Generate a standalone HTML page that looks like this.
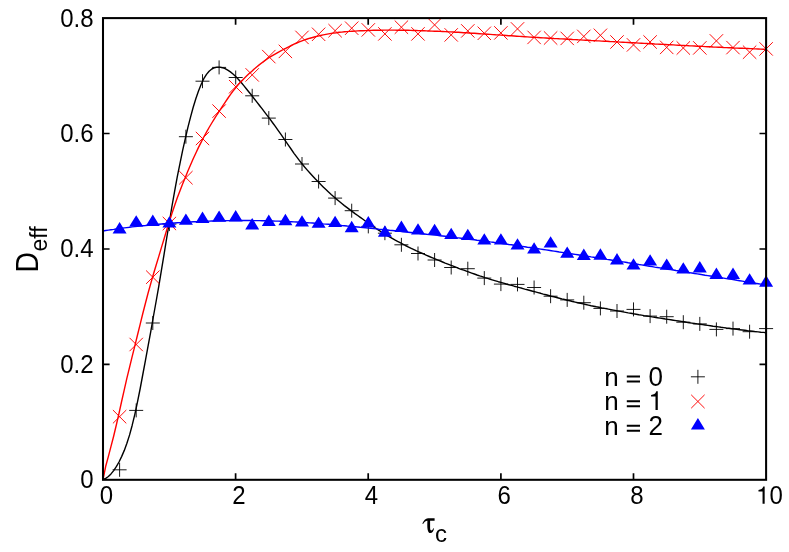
<!DOCTYPE html>
<html lang="en"><head><meta charset="utf-8"><title>D_eff versus tau_c</title>
<style>
html,body{margin:0;padding:0;background:#fff}
svg{display:block}
text{font-family:"Liberation Sans",sans-serif;fill:#000}
.g{will-change:opacity}
</style></head>
<body>
<svg width="789" height="552" viewBox="0 0 789 552">
<defs>
<path id="one" d="M359 0H271V-505H101V-568C209 -575 268 -605 302 -703H359Z"/>
</defs>
<!-- n = 0 : curve + points -->
<path d="M103.0 479.6L105.7 478.4L108.4 476.5L111.0 473.9L113.7 470.6L116.3 466.7L119.0 462.0L121.6 456.6L124.3 450.4L126.9 443.3L129.6 434.9L132.2 425.2L134.9 414.1L137.5 401.8L140.2 388.5L142.8 374.5L145.5 360.2L148.1 345.8L150.8 331.3L153.4 316.5L156.1 301.5L158.8 286.1L161.4 270.3L164.1 254.2L166.7 238.0L169.4 221.8L172.0 206.0L174.7 190.9L177.3 176.7L180.0 163.3L182.6 150.7L185.3 138.7L187.9 127.4L190.6 116.8L193.2 107.2L195.9 98.5L198.5 90.9L201.2 84.3L203.8 78.7L206.5 74.4L209.1 71.2L211.8 69.0L214.5 67.7L217.1 67.1L219.8 67.1L222.4 67.7L225.1 68.6L227.7 70.1L230.4 71.9L233.0 74.0L235.7 76.5L238.3 79.3L241.0 82.3L243.6 85.4L246.3 88.7L248.9 92.0L251.6 95.3L254.2 98.7L256.9 102.1L259.5 105.5L262.2 108.9L264.8 112.4L267.5 115.9L270.2 119.4L272.8 123.0L275.5 126.7L278.1 130.4L280.8 134.1L283.4 137.9L286.1 141.8L288.7 145.6L291.4 149.5L294.0 153.3L296.7 156.9L299.3 160.4L302.0 163.8L304.6 167.0L307.3 170.1L309.9 173.0L312.6 175.9L315.2 178.8L317.9 181.5L320.5 184.3L323.2 186.9L325.9 189.5L328.5 192.0L331.2 194.5L333.8 196.8L336.5 199.1L339.1 201.3L341.8 203.5L344.4 205.6L347.1 207.6L349.7 209.6L352.4 211.6L355.0 213.6L357.7 215.5L360.3 217.4L363.0 219.3L365.6 221.2L368.3 223.1L370.9 224.9L373.6 226.8L376.2 228.5L378.9 230.3L381.6 232.0L384.2 233.6L386.9 235.3L389.5 236.8L392.2 238.4L394.8 239.9L397.5 241.3L400.1 242.7L402.8 244.1L405.4 245.5L408.1 246.8L410.7 248.1L413.4 249.3L416.0 250.6L418.7 251.8L421.3 253.0L424.0 254.2L426.6 255.3L429.3 256.5L431.9 257.6L434.6 258.7L437.3 259.8L439.9 260.9L442.6 262.0L445.2 263.1L447.9 264.1L450.5 265.2L453.2 266.2L455.8 267.2L458.5 268.3L461.1 269.3L463.8 270.2L466.4 271.2L469.1 272.2L471.7 273.1L474.4 274.0L477.0 275.0L479.7 275.9L482.3 276.7L485.0 277.6L487.6 278.4L490.3 279.3L493.0 280.1L495.6 280.9L498.3 281.7L500.9 282.4L503.6 283.2L506.2 284.0L508.9 284.7L511.5 285.4L514.2 286.2L516.8 286.9L519.5 287.6L522.1 288.3L524.8 289.1L527.4 289.8L530.1 290.5L532.7 291.2L535.4 291.9L538.0 292.6L540.7 293.3L543.3 294.1L546.0 294.8L548.7 295.5L551.3 296.2L554.0 296.8L556.6 297.5L559.3 298.2L561.9 298.9L564.6 299.5L567.2 300.2L569.9 300.8L572.5 301.5L575.2 302.1L577.8 302.7L580.5 303.3L583.1 303.9L585.8 304.5L588.4 305.1L591.1 305.7L593.7 306.2L596.4 306.8L599.0 307.3L601.7 307.9L604.4 308.4L607.0 308.9L609.7 309.4L612.3 309.9L615.0 310.4L617.6 310.9L620.3 311.4L622.9 311.9L625.6 312.4L628.2 312.9L630.9 313.3L633.5 313.8L636.2 314.2L638.8 314.7L641.5 315.1L644.1 315.6L646.8 316.0L649.4 316.4L652.1 316.9L654.7 317.3L657.4 317.7L660.1 318.1L662.7 318.5L665.4 319.0L668.0 319.4L670.7 319.8L673.3 320.2L676.0 320.6L678.6 321.0L681.3 321.4L683.9 321.8L686.6 322.3L689.2 322.7L691.9 323.1L694.5 323.5L697.2 323.9L699.8 324.2L702.5 324.6L705.1 325.0L707.8 325.4L710.4 325.8L713.1 326.2L715.8 326.5L718.4 326.9L721.1 327.3L723.7 327.6L726.4 328.0L729.0 328.3L731.7 328.7L734.3 329.0L737.0 329.4L739.6 329.7L742.3 330.0L744.9 330.3L747.6 330.7L750.2 331.0L752.9 331.3L755.5 331.6L758.2 331.9L760.8 332.2L763.5 332.4L766.1 332.7" fill="none" stroke="#000" stroke-width="1.4" stroke-linejoin="round"/>
<path d="M112.6 469.8h14.0M119.6 462.8v14.0M129.2 410.4h14.0M136.2 403.4v14.0M145.8 323.0h14.0M152.8 316.0v14.0M162.4 224.1h14.0M169.4 217.1v14.0M178.9 136.7h14.0M185.9 129.7v14.0M195.5 81.2h14.0M202.5 74.2v14.0M212.1 67.4h14.0M219.1 60.4v14.0M228.7 77.5h14.0M235.7 70.5v14.0M245.2 95.8h14.0M252.2 88.8v14.0M261.8 118.1h14.0M268.8 111.1v14.0M278.4 139.5h14.0M285.4 132.5v14.0M295.0 164.0h14.0M302.0 157.0v14.0M311.6 181.5h14.0M318.6 174.5v14.0M328.1 198.1h14.0M335.1 191.1v14.0M344.7 210.7h14.0M351.7 203.7v14.0M361.3 226.4h14.0M368.3 219.4v14.0M377.9 233.2h14.0M384.9 226.2v14.0M394.4 244.8h14.0M401.4 237.8v14.0M411.0 253.5h14.0M418.0 246.5v14.0M427.6 260.0h14.0M434.6 253.0v14.0M444.2 267.5h14.0M451.2 260.5v14.0M460.8 268.7h14.0M467.8 261.7v14.0M477.3 278.1h14.0M484.3 271.1v14.0M493.9 284.1h14.0M500.9 277.1v14.0M510.5 284.4h14.0M517.5 277.4v14.0M527.1 287.5h14.0M534.1 280.5v14.0M543.6 296.2h14.0M550.6 289.2v14.0M560.2 299.9h14.0M567.2 292.9v14.0M576.8 302.7h14.0M583.8 295.7v14.0M593.4 308.4h14.0M600.4 301.4v14.0M610.0 311.0h14.0M617.0 304.0v14.0M626.5 309.4h14.0M633.5 302.4v14.0M643.1 316.1h14.0M650.1 309.1v14.0M659.7 316.7h14.0M666.7 309.7v14.0M676.3 322.2h14.0M683.3 315.2v14.0M692.8 323.9h14.0M699.8 316.9v14.0M709.4 329.4h14.0M716.4 322.4v14.0M726.0 328.6h14.0M733.0 321.6v14.0M742.6 331.7h14.0M749.6 324.7v14.0M759.1 328.6h14.0M766.1 321.6v14.0M690.9 376.8h14.0M697.9 369.8v14.0" stroke="#000" stroke-width="1" fill="none" stroke-opacity="0.9"/>
<!-- n = 1 : curve + points -->
<path d="M103.0 479.6L105.7 466.3L108.4 456.4L111.0 446.4L113.7 436.0L116.3 425.0L119.0 413.4L121.6 401.5L124.3 389.7L126.9 378.2L129.6 367.2L132.2 356.4L134.9 345.7L137.5 335.0L140.2 324.2L142.8 313.5L145.5 303.0L148.1 293.0L150.8 283.4L153.4 274.2L156.1 265.2L158.8 256.4L161.4 247.6L164.1 238.8L166.7 230.0L169.4 221.5L172.0 213.2L174.7 205.3L177.3 197.8L180.0 190.7L182.6 183.9L185.3 177.4L187.9 171.0L190.6 164.8L193.2 158.8L195.9 153.0L198.5 147.4L201.2 142.1L203.8 137.0L206.5 132.1L209.1 127.5L211.8 123.0L214.5 118.7L217.1 114.5L219.8 110.4L222.4 106.3L225.1 102.3L227.7 98.5L230.4 94.7L233.0 91.1L235.7 87.8L238.3 84.6L241.0 81.7L243.6 78.9L246.3 76.3L248.9 73.8L251.6 71.4L254.2 69.0L256.9 66.8L259.5 64.6L262.2 62.5L264.8 60.6L267.5 58.7L270.2 56.9L272.8 55.3L275.5 53.8L278.1 52.3L280.8 50.9L283.4 49.5L286.1 48.2L288.7 46.8L291.4 45.5L294.0 44.2L296.7 43.0L299.3 41.9L302.0 40.8L304.6 39.9L307.3 39.0L309.9 38.2L312.6 37.5L315.2 36.8L317.9 36.1L320.5 35.5L323.2 34.9L325.9 34.4L328.5 33.9L331.2 33.4L333.8 33.0L336.5 32.7L339.1 32.3L341.8 32.1L344.4 31.8L347.1 31.6L349.7 31.4L352.4 31.2L355.0 31.1L357.7 30.9L360.3 30.8L363.0 30.7L365.6 30.6L368.3 30.5L370.9 30.4L373.6 30.3L376.2 30.2L378.9 30.2L381.6 30.2L384.2 30.1L386.9 30.1L389.5 30.1L392.2 30.1L394.8 30.1L397.5 30.2L400.1 30.2L402.8 30.2L405.4 30.3L408.1 30.3L410.7 30.4L413.4 30.5L416.0 30.5L418.7 30.6L421.3 30.7L424.0 30.8L426.6 30.9L429.3 31.0L431.9 31.1L434.6 31.2L437.3 31.3L439.9 31.4L442.6 31.5L445.2 31.6L447.9 31.8L450.5 31.9L453.2 32.0L455.8 32.2L458.5 32.3L461.1 32.5L463.8 32.7L466.4 32.8L469.1 33.0L471.7 33.2L474.4 33.3L477.0 33.5L479.7 33.7L482.3 33.9L485.0 34.0L487.6 34.2L490.3 34.4L493.0 34.6L495.6 34.8L498.3 34.9L500.9 35.1L503.6 35.3L506.2 35.5L508.9 35.7L511.5 35.8L514.2 36.0L516.8 36.2L519.5 36.4L522.1 36.5L524.8 36.7L527.4 36.9L530.1 37.1L532.7 37.2L535.4 37.4L538.0 37.5L540.7 37.7L543.3 37.9L546.0 38.0L548.7 38.2L551.3 38.3L554.0 38.5L556.6 38.6L559.3 38.8L561.9 38.9L564.6 39.0L567.2 39.2L569.9 39.3L572.5 39.5L575.2 39.6L577.8 39.8L580.5 39.9L583.1 40.1L585.8 40.2L588.4 40.3L591.1 40.5L593.7 40.6L596.4 40.8L599.0 40.9L601.7 41.1L604.4 41.2L607.0 41.3L609.7 41.5L612.3 41.6L615.0 41.8L617.6 41.9L620.3 42.1L622.9 42.2L625.6 42.4L628.2 42.5L630.9 42.7L633.5 42.8L636.2 42.9L638.8 43.1L641.5 43.2L644.1 43.4L646.8 43.5L649.4 43.7L652.1 43.8L654.7 44.0L657.4 44.1L660.1 44.2L662.7 44.4L665.4 44.5L668.0 44.7L670.7 44.8L673.3 44.9L676.0 45.1L678.6 45.2L681.3 45.4L683.9 45.5L686.6 45.6L689.2 45.8L691.9 45.9L694.5 46.0L697.2 46.2L699.8 46.3L702.5 46.4L705.1 46.6L707.8 46.7L710.4 46.8L713.1 47.0L715.8 47.1L718.4 47.2L721.1 47.3L723.7 47.5L726.4 47.6L729.0 47.7L731.7 47.8L734.3 48.0L737.0 48.1L739.6 48.2L742.3 48.3L744.9 48.4L747.6 48.5L750.2 48.6L752.9 48.8L755.5 48.9L758.2 49.0L760.8 49.1L763.5 49.2L766.1 49.3" fill="none" stroke="#f00" stroke-width="1.4" stroke-linejoin="round"/>
<path d="M112.9 410.0l13.4 13.4M112.9 423.4l13.4 -13.4M129.5 337.8l13.4 13.4M129.5 351.2l13.4 -13.4M146.1 270.5l13.4 13.4M146.1 283.9l13.4 -13.4M162.7 216.8l13.4 13.4M162.7 230.2l13.4 -13.4M179.2 171.0l13.4 13.4M179.2 184.4l13.4 -13.4M195.8 131.8l13.4 13.4M195.8 145.2l13.4 -13.4M212.4 104.4l13.4 13.4M212.4 117.8l13.4 -13.4M229.0 80.0l13.4 13.4M229.0 93.4l13.4 -13.4M245.5 68.2l13.4 13.4M245.5 81.6l13.4 -13.4M262.1 49.9l13.4 13.4M262.1 63.3l13.4 -13.4M278.7 44.7l13.4 13.4M278.7 58.1l13.4 -13.4M295.3 30.7l13.4 13.4M295.3 44.1l13.4 -13.4M311.9 27.6l13.4 13.4M311.9 41.0l13.4 -13.4M328.4 24.0l13.4 13.4M328.4 37.4l13.4 -13.4M345.0 21.5l13.4 13.4M345.0 34.9l13.4 -13.4M361.6 23.2l13.4 13.4M361.6 36.6l13.4 -13.4M378.2 27.2l13.4 13.4M378.2 40.6l13.4 -13.4M394.7 20.5l13.4 13.4M394.7 33.9l13.4 -13.4M411.3 27.2l13.4 13.4M411.3 40.6l13.4 -13.4M427.9 18.2l13.4 13.4M427.9 31.6l13.4 -13.4M444.5 28.2l13.4 13.4M444.5 41.6l13.4 -13.4M461.1 24.2l13.4 13.4M461.1 37.6l13.4 -13.4M477.6 26.6l13.4 13.4M477.6 40.0l13.4 -13.4M494.2 26.2l13.4 13.4M494.2 39.6l13.4 -13.4M510.8 22.2l13.4 13.4M510.8 35.6l13.4 -13.4M527.4 30.7l13.4 13.4M527.4 44.1l13.4 -13.4M543.9 31.3l13.4 13.4M543.9 44.7l13.4 -13.4M560.5 31.7l13.4 13.4M560.5 45.1l13.4 -13.4M577.1 29.7l13.4 13.4M577.1 43.1l13.4 -13.4M593.7 28.6l13.4 13.4M593.7 42.0l13.4 -13.4M610.3 35.3l13.4 13.4M610.3 48.7l13.4 -13.4M626.8 38.2l13.4 13.4M626.8 51.6l13.4 -13.4M643.4 35.3l13.4 13.4M643.4 48.7l13.4 -13.4M660.0 40.7l13.4 13.4M660.0 54.1l13.4 -13.4M676.6 41.3l13.4 13.4M676.6 54.7l13.4 -13.4M693.1 41.2l13.4 13.4M693.1 54.6l13.4 -13.4M709.7 34.2l13.4 13.4M709.7 47.6l13.4 -13.4M726.3 40.9l13.4 13.4M726.3 54.3l13.4 -13.4M742.9 45.5l13.4 13.4M742.9 58.9l13.4 -13.4M759.4 42.2l13.4 13.4M759.4 55.6l13.4 -13.4M691.2 394.8l13.4 13.4M691.2 408.2l13.4 -13.4" stroke="#f00" stroke-width="1" fill="none" stroke-opacity="0.95"/>
<!-- n = 2 : curve + points -->
<path d="M103.0 231.0L105.7 230.5L108.4 230.1L111.0 229.7L113.7 229.4L116.3 229.0L119.0 228.6L121.6 228.3L124.3 227.9L126.9 227.6L129.6 227.3L132.2 226.9L134.9 226.6L137.5 226.3L140.2 226.0L142.8 225.7L145.5 225.5L148.1 225.2L150.8 224.9L153.4 224.7L156.1 224.5L158.8 224.2L161.4 224.0L164.1 223.8L166.7 223.6L169.4 223.3L172.0 223.2L174.7 223.0L177.3 222.8L180.0 222.6L182.6 222.4L185.3 222.3L187.9 222.1L190.6 222.0L193.2 221.8L195.9 221.7L198.5 221.6L201.2 221.4L203.8 221.3L206.5 221.2L209.1 221.1L211.8 221.0L214.5 221.0L217.1 220.9L219.8 220.8L222.4 220.7L225.1 220.7L227.7 220.6L230.4 220.6L233.0 220.6L235.7 220.5L238.3 220.5L241.0 220.5L243.6 220.5L246.3 220.5L248.9 220.5L251.6 220.5L254.2 220.6L256.9 220.6L259.5 220.6L262.2 220.7L264.8 220.8L267.5 220.8L270.2 220.9L272.8 221.0L275.5 221.1L278.1 221.1L280.8 221.2L283.4 221.4L286.1 221.5L288.7 221.6L291.4 221.7L294.0 221.9L296.7 222.0L299.3 222.2L302.0 222.3L304.6 222.5L307.3 222.7L309.9 222.9L312.6 223.0L315.2 223.2L317.9 223.4L320.5 223.6L323.2 223.9L325.9 224.1L328.5 224.3L331.2 224.5L333.8 224.8L336.5 225.0L339.1 225.2L341.8 225.5L344.4 225.7L347.1 226.0L349.7 226.2L352.4 226.5L355.0 226.7L357.7 227.0L360.3 227.3L363.0 227.5L365.6 227.8L368.3 228.1L370.9 228.3L373.6 228.6L376.2 228.9L378.9 229.2L381.6 229.4L384.2 229.7L386.9 230.0L389.5 230.3L392.2 230.5L394.8 230.8L397.5 231.1L400.1 231.4L402.8 231.7L405.4 232.0L408.1 232.2L410.7 232.5L413.4 232.8L416.0 233.1L418.7 233.4L421.3 233.7L424.0 234.0L426.6 234.3L429.3 234.5L431.9 234.8L434.6 235.1L437.3 235.4L439.9 235.7L442.6 236.0L445.2 236.3L447.9 236.6L450.5 236.9L453.2 237.2L455.8 237.6L458.5 237.9L461.1 238.2L463.8 238.5L466.4 238.8L469.1 239.2L471.7 239.5L474.4 239.8L477.0 240.2L479.7 240.5L482.3 240.8L485.0 241.2L487.6 241.5L490.3 241.9L493.0 242.2L495.6 242.6L498.3 243.0L500.9 243.3L503.6 243.7L506.2 244.1L508.9 244.5L511.5 244.8L514.2 245.2L516.8 245.6L519.5 246.0L522.1 246.4L524.8 246.8L527.4 247.2L530.1 247.5L532.7 247.9L535.4 248.3L538.0 248.7L540.7 249.1L543.3 249.5L546.0 249.9L548.7 250.3L551.3 250.7L554.0 251.1L556.6 251.5L559.3 252.0L561.9 252.4L564.6 252.8L567.2 253.2L569.9 253.6L572.5 254.0L575.2 254.4L577.8 254.8L580.5 255.2L583.1 255.6L585.8 256.0L588.4 256.4L591.1 256.9L593.7 257.3L596.4 257.7L599.0 258.1L601.7 258.5L604.4 258.9L607.0 259.4L609.7 259.8L612.3 260.2L615.0 260.6L617.6 261.1L620.3 261.5L622.9 261.9L625.6 262.3L628.2 262.8L630.9 263.2L633.5 263.6L636.2 264.0L638.8 264.5L641.5 264.9L644.1 265.3L646.8 265.8L649.4 266.2L652.1 266.6L654.7 267.1L657.4 267.5L660.1 267.9L662.7 268.3L665.4 268.8L668.0 269.2L670.7 269.6L673.3 270.0L676.0 270.5L678.6 270.9L681.3 271.3L683.9 271.8L686.6 272.2L689.2 272.6L691.9 273.0L694.5 273.5L697.2 273.9L699.8 274.3L702.5 274.7L705.1 275.2L707.8 275.6L710.4 276.0L713.1 276.4L715.8 276.9L718.4 277.3L721.1 277.7L723.7 278.1L726.4 278.6L729.0 279.0L731.7 279.4L734.3 279.8L737.0 280.3L739.6 280.7L742.3 281.1L744.9 281.6L747.6 282.0L750.2 282.4L752.9 282.8L755.5 283.3L758.2 283.7L760.8 284.1L763.5 284.6L766.1 285.0" fill="none" stroke="#00f" stroke-width="1.4" stroke-linejoin="round"/>
<path d="M119.6 222.0L112.6 233.4h14.0ZM136.2 215.2L129.2 226.5h14.0ZM152.8 214.6L145.8 226.0h14.0ZM169.4 216.3L162.4 227.6h14.0ZM185.9 213.5L178.9 224.8h14.0ZM202.5 211.5L195.5 222.9h14.0ZM219.1 210.5L212.1 221.8h14.0ZM235.7 210.1L228.7 221.5h14.0ZM252.2 218.1L245.2 229.4h14.0ZM268.8 214.6L261.8 226.0h14.0ZM285.4 213.8L278.4 225.2h14.0ZM302.0 215.2L295.0 226.5h14.0ZM318.6 216.4L311.6 227.8h14.0ZM335.1 215.7L328.1 227.0h14.0ZM351.7 220.8L344.7 232.2h14.0ZM368.3 216.1L361.3 227.5h14.0ZM384.9 225.3L377.9 236.7h14.0ZM401.4 220.6L394.4 232.0h14.0ZM418.0 223.3L411.0 234.6h14.0ZM434.6 223.7L427.6 235.0h14.0ZM451.2 227.7L444.2 239.1h14.0ZM467.8 228.8L460.8 240.1h14.0ZM484.3 233.3L477.3 244.6h14.0ZM500.9 233.2L493.9 244.5h14.0ZM517.5 238.2L510.5 249.6h14.0ZM534.1 242.3L527.1 253.6h14.0ZM550.6 236.2L543.6 247.5h14.0ZM567.2 246.4L560.2 257.7h14.0ZM583.8 248.6L576.8 259.9h14.0ZM600.4 248.3L593.4 259.7h14.0ZM617.0 253.1L610.0 264.4h14.0ZM633.5 258.2L626.5 269.6h14.0ZM650.1 254.3L643.1 265.6h14.0ZM666.7 258.5L659.7 269.8h14.0ZM683.3 262.2L676.3 273.5h14.0ZM699.8 261.1L692.8 272.5h14.0ZM716.4 267.6L709.4 278.9h14.0ZM733.0 267.6L726.0 278.9h14.0ZM749.6 273.3L742.6 284.6h14.0ZM766.1 275.3L759.1 286.7h14.0ZM697.9 418.1L690.9 429.4h14.0Z" fill="#00f" stroke="none"/>
<!-- tics and border -->
<path d="M235.6 479.8v-6.6M235.6 18.1v6.6M368.2 479.8v-6.6M368.2 18.1v6.6M500.9 479.8v-6.6M500.9 18.1v6.6M633.5 479.8v-6.6M633.5 18.1v6.6M103.0 364.4h6.6M766.1 364.4h-6.6M103.0 249.0h6.6M766.1 249.0h-6.6M103.0 133.5h6.6M766.1 133.5h-6.6" stroke="#000" stroke-width="1.7" fill="none"/>
<rect x="103.0" y="18.1" width="663.1" height="461.7" fill="none" stroke="#000" stroke-width="2.05"/>
<!-- tic labels -->
<g class="g">
<text transform="translate(93.6 488.0) scale(1 1.06)" font-size="24px" text-anchor="end">0</text>
<text transform="translate(93.6 373.0) scale(1 1.06)" font-size="24px" text-anchor="end">0.2</text>
<text transform="translate(93.6 257.0) scale(1 1.06)" font-size="24px" text-anchor="end">0.4</text>
<text transform="translate(93.6 142.0) scale(1 1.06)" font-size="24px" text-anchor="end">0.6</text>
<text transform="translate(93.6 27.0) scale(1 1.06)" font-size="24px" text-anchor="end">0.8</text>
<text transform="translate(106.3 504.0) scale(1 1.06)" font-size="24px" text-anchor="middle">0</text>
<text transform="translate(238.9 504.0) scale(1 1.06)" font-size="24px" text-anchor="middle">2</text>
<text transform="translate(371.5 504.0) scale(1 1.06)" font-size="24px" text-anchor="middle">4</text>
<text transform="translate(504.2 504.0) scale(1 1.06)" font-size="24px" text-anchor="middle">6</text>
<text transform="translate(636.8 504.0) scale(1 1.06)" font-size="24px" text-anchor="middle">8</text>
<use href="#one" transform="translate(756.05 503.80) scale(0.0240 0.0245)"/>
<text transform="translate(769.4 504.0) scale(1 1.06)" font-size="24px" text-anchor="start">0</text>
</g>
<!-- key -->
<g class="g">
<text x="604.3" y="385.5" font-size="26px">n</text>
<path d="M626.8 376.6h13.2M626.8 381.6h13.2" stroke="#000" stroke-width="2" fill="none"/>
<text transform="translate(648.5 385.8) scale(1 1.06)" font-size="26px" text-anchor="start">0</text>
<text x="604.3" y="410.1" font-size="26px">n</text>
<path d="M626.8 401.2h13.2M626.8 406.2h13.2" stroke="#000" stroke-width="2" fill="none"/>
<use href="#one" transform="translate(648.45 410.00) scale(0.0260 0.0265)"/>
<text x="604.3" y="434.7" font-size="26px">n</text>
<path d="M626.8 425.8h13.2M626.8 430.8h13.2" stroke="#000" stroke-width="2" fill="none"/>
<text transform="translate(648.5 435.0) scale(1 1.06)" font-size="26px" text-anchor="start">2</text>
</g>
<!-- axis labels -->
<g class="g">
<text transform="translate(37.5 272.6) rotate(-90) scale(0.945 1.043)" font-size="30px">D</text>
<text transform="translate(47.0 251.5) rotate(-90)" font-size="23px">eff</text>
<path d="M434.6 518.15L428 518.15C425.5 518.15 423.8 520.3 422.3 523.5L423.1 523.9C424.2 522.2 425.4 520.8 427.4 520.8C427.3 524 427.2 527 427.6 529.5C428 532 429 533.1 430.4 533.1C432.3 533.1 433.6 531 434 528.4L433.3 528.2C432.8 529.6 432.2 530.4 431.4 530.4C430.4 530.4 430.1 529.4 430.1 527.5L430.1 520.8L434.6 520.8Z" fill="#000"/>
<text x="435.0" y="542.1" font-size="24px">c</text>
</g>
</svg>
</body></html>
